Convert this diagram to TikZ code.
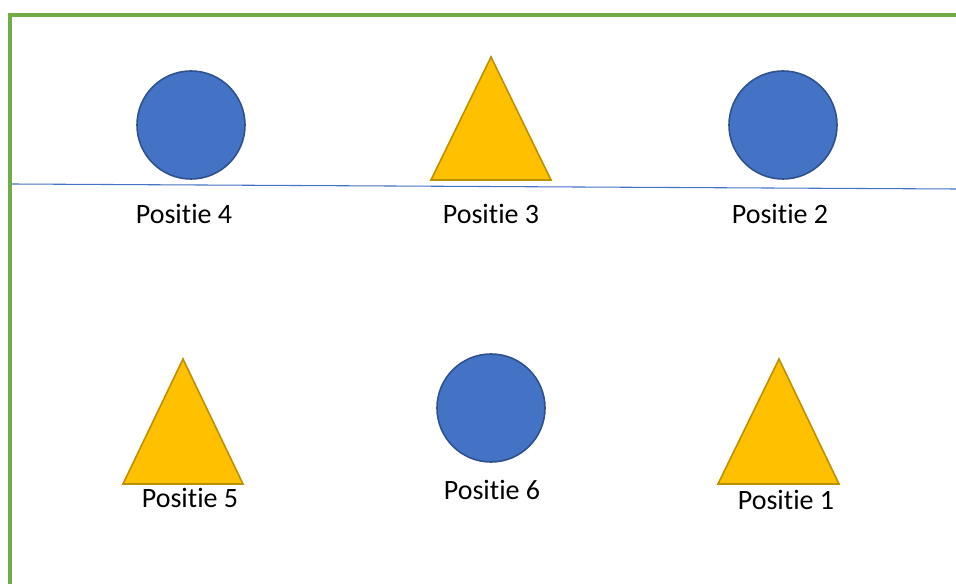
\documentclass[tikz,border=0pt]{standalone}
\usepackage{fontspec}
\setmainfont[Ligatures=NoCommon]{Carlito}
\definecolor{kadergroen}{HTML}{70AD47}
\definecolor{bolblauw}{HTML}{4472C4}
\definecolor{randblauw}{HTML}{2F528F}
\definecolor{driegeel}{HTML}{FFC000}
\definecolor{randgeel}{HTML}{BF9000}
\tikzset{
  bol/.style={circle, draw=randblauw, fill=bolblauw, line width=1.2pt, minimum size=81pt, inner sep=0pt},
  drie/.style={draw=randgeel, fill=driegeel, line width=1.2pt, line join=miter},
  label/.style={font=\fontsize{21}{25}\selectfont, inner sep=0pt}
}
\begin{document}
\begin{tikzpicture}[x=0.75pt, y=-0.75pt]
  \useasboundingbox (0,0) rectangle (956,584);
  \draw[kadergroen, line width=2.6pt] (958,15) -- (10,15) -- (10,586);
  \draw[bolblauw, line width=0.8pt] (12,184) -- (956,189);

  % bovenste rij
  \node[bol] (c4) at (191,125) {};
  \draw[drie] (431,180) -- (491,57) -- (551,180) -- cycle;
  \node[bol] (c2) at (783,125) {};

  \node[label] (p4) at (184,214) {Positie 4};
  \node[label] (p3) at (491,214) {Positie 3};
  \node[label] (p2) at (780,214) {Positie 2};

  % onderste rij
  \draw[drie] (123,484) -- (183,359) -- (243,484) -- cycle;
  \node[bol] (c6) at (491,408) {};
  \draw[drie] (718,484) -- (779,359) -- (839,484) -- cycle;

  \node[label] (p5) at (190,498) {Positie 5};
  \node[label] (p6) at (492,490) {Positie 6};
  \node[label] (p1) at (786,500) {Positie 1};
\end{tikzpicture}
\end{document}
